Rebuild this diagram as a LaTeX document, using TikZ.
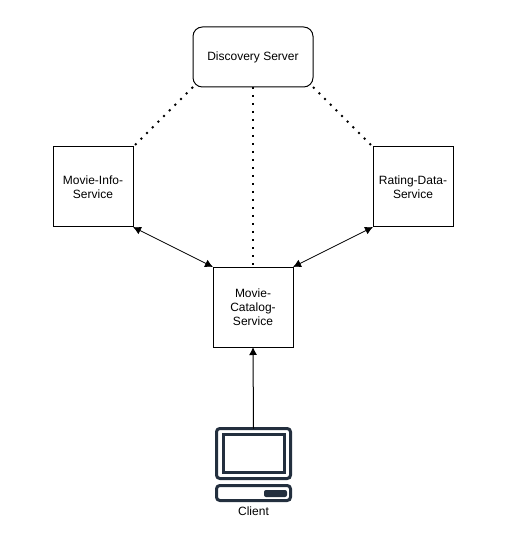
\documentclass[tikz,border=0pt]{standalone}
\usepackage{fontspec}
\setmainfont{Liberation Sans}
\usetikzlibrary{arrows.meta}
\definecolor{iconcol}{HTML}{232F3E}
\tikzset{
  x=0.75pt,y=-0.75pt,
  svc/.style={draw=black,line width=0.75pt,minimum width=60pt,minimum height=60pt,inner sep=0pt,outer sep=0pt,align=center,font=\fontsize{9}{10.5}\selectfont},
  disc/.style={svc,minimum width=90pt,minimum height=45pt,rounded corners=7pt},
  reg/.style={line width=1.5pt,dash pattern=on 1.5pt off 4.5pt,dash phase=0pt},
  link/.style={line width=0.6pt,{Latex[length=6pt,width=6pt]}-{Latex[length=6pt,width=6pt]}},
  call/.style={line width=0.75pt,-{Latex[length=6pt,width=6pt]}},
  iconline/.style={draw=iconcol,line width=2.25pt,rounded corners=2.5pt},
  lbl/.style={font=\fontsize{9}{10.5}\selectfont,inner sep=0pt}
}
\begin{document}
\begin{tikzpicture}
\useasboundingbox (0,0) rectangle (509,534);
\node[disc] (discovery) at (253,57) {Discovery Server};
\node[svc] (info) at (93,187) {Movie-Info-\\Service};
\node[svc] (rating) at (413,187) {Rating-Data-\\Service};
\node[svc] (catalog) at (253,307) {Movie-\\Catalog-\\Service};
% client icon
\node[inner sep=0pt,outer sep=0pt,minimum width=55.5pt,minimum height=37.5pt] (screen) at (253.5,453.5) {};
\draw[iconline] (screen.south west) rectangle (screen.north east);
\draw[draw=iconcol,line width=2.25pt] (223.5,434.5) rectangle (284.5,472.5);
\node[inner sep=0pt,outer sep=0pt,minimum width=55.5pt,minimum height=11.25pt] (base) at (253.5,493) {};
\draw[iconline] (base.south west) rectangle (base.north east);
\fill[iconcol,rounded corners=1.5pt] (264,490) rectangle (287,497);
\node[lbl] (client) at (253.5,511) {Client};
% connectors
\draw[reg] (discovery.south) -- (catalog.north);
\draw[reg] (discovery.south west) -- (info.north east);
\draw[reg] (discovery.south east) -- (rating.north west);
\draw[link] (info.south east) -- (catalog.north west);
\draw[link] (rating.south west) -- (catalog.north east);
\draw[call] (screen.north) -- (catalog.south);
\end{tikzpicture}
\end{document}
